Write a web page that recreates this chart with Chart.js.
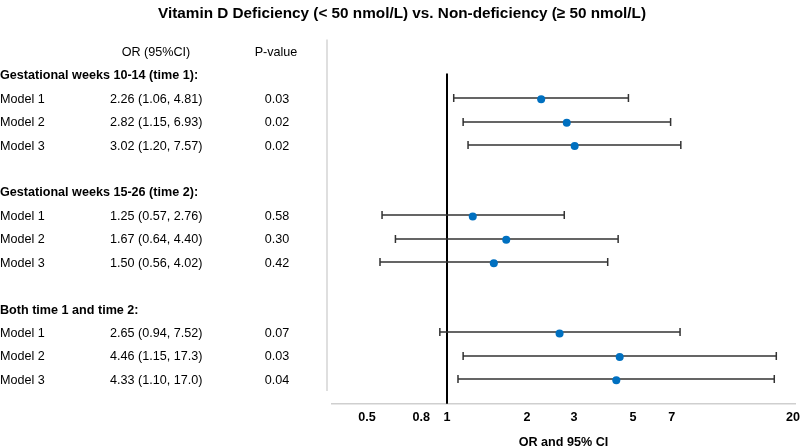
<!DOCTYPE html>
<html>
<head>
<meta charset="utf-8">
<script src="https://cdn.jsdelivr.net/npm/chart.js@4.4.1/dist/chart.umd.min.js"></script>
<style>
  html, body { margin: 0; padding: 0; background: #ffffff; }
  #wrap { width: 800px; height: 448px; position: relative; }
</style>
</head>
<body>
<div id="wrap"><canvas id="c" width="800" height="448"></canvas></div>
<script>
// ---- data ----
const chartTitle = "Vitamin D Deficiency (< 50 nmol/L) vs. Non-deficiency (\u2265 50 nmol/L)";
const groupLabels = ["Gestational weeks 10-14 (time 1):", "Gestational weeks 15-26 (time 2):", "Both time 1 and time 2:"];
const modelLabels = ["Model 1", "Model 2", "Model 3"];
const orValues = [2.26, 2.82, 3.02, 1.25, 1.67, 1.50, 2.65, 4.46, 4.33];
const ciLower  = [1.06, 1.15, 1.20, 0.57, 0.64, 0.56, 0.94, 1.15, 1.10];
const ciUpper  = [4.81, 6.93, 7.57, 2.76, 4.40, 4.02, 7.52, 17.3, 17.0];
const pValues  = ["0.03", "0.02", "0.02", "0.58", "0.30", "0.42", "0.07", "0.03", "0.04"];
const tickValues = [0.5, 0.8, 1, 2, 3, 5, 7, 20];
const xAxisTitle = "OR and 95% CI";
const colHeaders = ["OR (95%CI)", "P-value"];

// ---- derived ----
const FONT = "'Liberation Sans', Arial, sans-serif";
const fmt = v => (v >= 10 ? v.toFixed(1) : v.toFixed(2));
const rowOf = i => 2 + Math.floor(i / 3) * 5 + (i % 3);
const groupRow = g => 1 + g * 5;
const points = orValues.map((v, i) => ({ x: v, y: rowOf(i) }));

const overlay = {
  id: 'overlay',
  beforeDatasetsDraw(chart) {
    const { ctx, scales: { x, y }, chartArea } = chart;
    ctx.save();
    // reference line at OR = 1
    ctx.strokeStyle = '#000000';
    ctx.lineWidth = 2;
    ctx.beginPath();
    ctx.moveTo(Math.round(x.getPixelForValue(1)), y.getPixelForValue(0.9));
    ctx.lineTo(Math.round(x.getPixelForValue(1)), chartArea.bottom);
    ctx.stroke();
    // whiskers
    ctx.strokeStyle = '#333333';
    ctx.lineWidth = 1.5;
    orValues.forEach((v, i) => {
      const py = Math.round(y.getPixelForValue(rowOf(i))) - 1;
      const x1 = x.getPixelForValue(ciLower[i]);
      const x2 = x.getPixelForValue(ciUpper[i]);
      ctx.beginPath();
      ctx.moveTo(x1, py); ctx.lineTo(x2, py);
      ctx.moveTo(x1, py - 4); ctx.lineTo(x1, py + 4);
      ctx.moveTo(x2, py - 4); ctx.lineTo(x2, py + 4);
      ctx.stroke();
    });
    ctx.restore();
  },
  afterDraw(chart) {
    const { ctx, scales: { y }, chartArea } = chart;
    ctx.save();
    // light frame line on the left of the plot
    ctx.strokeStyle = '#d4d4d4';
    ctx.lineWidth = 1.5;
    ctx.beginPath();
    ctx.moveTo(chartArea.left - 5, y.getPixelForValue(-0.55));
    ctx.lineTo(chartArea.left - 5, y.getPixelForValue(14.45));
    ctx.stroke();

    // title
    ctx.fillStyle = '#000000';
    ctx.textBaseline = 'middle';
    ctx.textAlign = 'center';
    ctx.font = "bold 15.3px " + FONT;
    ctx.fillText(chartTitle, 402, 14);

    // table
    ctx.font = "12.6px " + FONT;
    ctx.fillText(colHeaders[0], 156, y.getPixelForValue(0));
    ctx.fillText(colHeaders[1], 276, y.getPixelForValue(0));
    groupLabels.forEach((g, gi) => {
      ctx.textAlign = 'left';
      ctx.font = "bold 12.6px " + FONT;
      ctx.fillText(g, 0, y.getPixelForValue(groupRow(gi)));
    });
    ctx.font = "12.6px " + FONT;
    orValues.forEach((v, i) => {
      const py = y.getPixelForValue(rowOf(i));
      ctx.textAlign = 'left';
      ctx.fillText(modelLabels[i % 3], 0, py);
      ctx.fillText(fmt(v) + " (" + fmt(ciLower[i]) + ", " + fmt(ciUpper[i]) + ")", 110, py);
      ctx.textAlign = 'center';
      ctx.fillText(pValues[i], 277, py);
    });
    ctx.restore();
  }
};

new Chart(document.getElementById('c'), {
  type: 'scatter',
  data: {
    datasets: [{
      data: points,
      backgroundColor: '#0070C0',
      borderWidth: 0,
      pointRadius: 4,
      pointHoverRadius: 4
    }]
  },
  options: {
    responsive: false,
    animation: false,
    layout: { padding: { left: 332, right: 5, top: 29, bottom: 0 } },
    plugins: { legend: { display: false }, tooltip: { enabled: false }, title: { display: false } },
    scales: {
      x: {
        type: 'logarithmic',
        min: 0.3696,
        max: 20.34,
        afterBuildTicks(scale) { scale.ticks = tickValues.map(v => ({ value: v })); },
        afterFit(scale) { scale.paddingLeft = 0; scale.paddingRight = 0; },
        ticks: {
          autoSkip: false, maxRotation: 0, padding: 6, color: '#000000',
          font: { family: FONT, size: 12.6, weight: 'bold' },
          callback: v => String(v)
        },
        grid: { display: false, drawTicks: false, tickLength: 0 },
        border: { display: true, color: '#cfcfcf', width: 1.5 },
        title: {
          display: true, text: xAxisTitle, color: '#000000',
          font: { family: FONT, size: 12.6, weight: 'bold' },
          padding: { top: 4, bottom: -2 }
        }
      },
      y: {
        type: 'linear', min: -1, max: 15, reverse: true, display: false
      }
    }
  },
  plugins: [overlay]
});
</script>
</body>
</html>
